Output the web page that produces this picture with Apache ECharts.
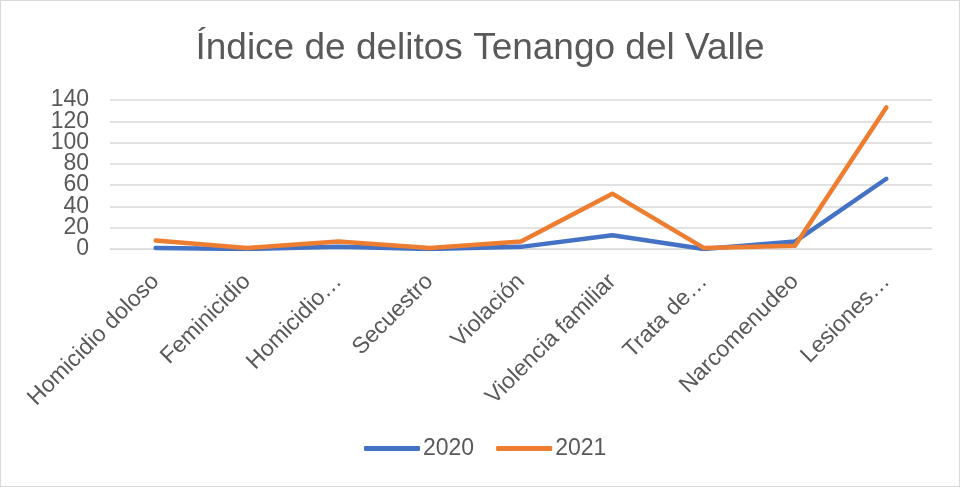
<!DOCTYPE html>
<html>
<head>
<meta charset="utf-8">
<script src="https://cdn.jsdelivr.net/npm/echarts@6/dist/echarts.min.js"></script>
<style>
  html, body { margin: 0; padding: 0; background: #fff; }
  #chart { width: 958px; height: 485px; border: 1px solid #d9d9d9; }
</style>
</head>
<body>
<div id="chart"></div>
<script>
const categories = ["Homicidio doloso", "Feminicidio", "Homicidio…", "Secuestro", "Violación",
  "Violencia familiar", "Trata de…", "Narcomenudeo", "Lesiones…"];
const values2020 = [1, 0, 2, 0, 2, 13, 0, 7, 66];
const values2021 = [8, 1, 7, 1, 7, 52, 1, 3, 133];
const yTicks = [0, 20, 40, 60, 80, 100, 120, 140];

const font = "'Liberation Sans', Arial, sans-serif";
const textColor = "#595959";

// the tick labels sit closer than their font height, so alternate ticks go on two stacked
// axes with the same scale; otherwise echarts drops the labels next to min and max
function yAxisFor(part) {
  return {
    type: "value",
    position: "left",
    min: yTicks[0],
    max: yTicks[yTicks.length - 1],
    interval: yTicks[1] - yTicks[0],
    axisLine: {show: false},
    axisTick: {show: false},
    splitLine: {show: part === 0, lineStyle: {color: "#d9d9d9", width: 1.5}},
    axisLabel: {
      margin: 21,
      showMinLabel: true,
      showMaxLabel: true,
      hideOverlap: false,
      fontFamily: font,
      fontSize: 23,
      color: textColor,
      formatter: value => (yTicks.indexOf(value) % 2 === part ? String(value) : ""),
    },
  };
}

const chart = echarts.init(document.getElementById("chart"));

chart.setOption({
  animation: false,
  title: {
    text: "Índice de delitos Tenango del Valle",
    left: "center",
    top: 24,
    textStyle: {fontFamily: font, fontSize: 37, fontWeight: "normal", color: textColor},
  },
  legend: {
    bottom: 21,
    left: 358,
    itemWidth: 56,
    itemHeight: 5,
    itemGap: 22,
    icon: "roundRect",
    textStyle: {fontFamily: font, fontSize: 23, color: textColor, padding: [0, 0, 0, -2]},
    data: ["2020", "2021"],
  },
  grid: {left: 109, right: 27, top: 99, bottom: 237, containLabel: false},
  xAxis: {
    type: "category",
    data: categories,
    boundaryGap: true,
    axisLine: {lineStyle: {color: "#d9d9d9", width: 1}},
    axisTick: {show: false},
    axisLabel: {
      rotate: 45,
      interval: 0,
      margin: 29,
      fontFamily: font,
      fontSize: 23,
      color: textColor,
    },
  },
  yAxis: [yAxisFor(0), yAxisFor(1)],
  series: [
    {
      name: "2020",
      type: "line",
      data: values2020,
      symbol: "none",
      lineStyle: {color: "#4472C4", width: 4.5, cap: "round", join: "round"},
      itemStyle: {color: "#4472C4"},
    },
    {
      name: "2021",
      type: "line",
      data: values2021,
      symbol: "none",
      lineStyle: {color: "#ED7D31", width: 4.5, cap: "round", join: "round"},
      itemStyle: {color: "#ED7D31"},
    },
  ],
});
</script>
</body>
</html>
